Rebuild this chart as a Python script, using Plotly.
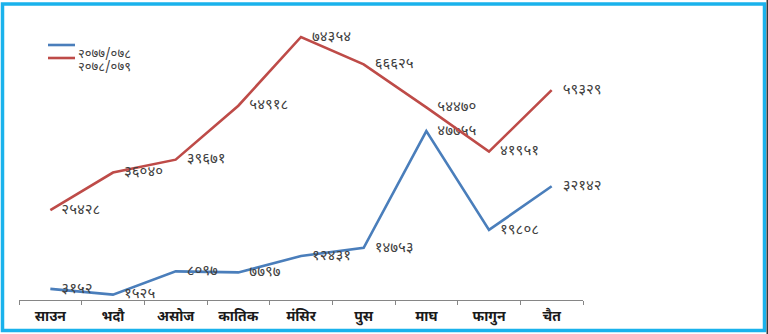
import plotly.graph_objects as go

months = ["साउन", "भदौ", "असोज", "कातिक", "मंसिर", "पुस", "माघ", "फागुन", "चैत"]
series_names = ["२०७७/०७८", "२०७८/०७९"]
values_2077 = [3152, 1525, 8097, 7797, 12431, 14753, 47755, 19808, 32142]
values_2078 = [25428, 36040, 39671, 54918, 74354, 66625, 54470, 41951, 59329]
colors = ["#4a7ebb", "#be4b48"]

DEV = str.maketrans("0123456789", "०१२३४५६७८९")
def dev(n):
    return str(n).translate(DEV)

FONT = "Noto Sans Devanagari, Noto Sans, sans-serif"
W, H = 768, 334
L, R, T, B = 19, 185, 17, 34
pw, ph = W - L - R, H - T - B
def px(x):
    return (x - L) / pw
def py(y):
    return (H - B - y) / ph

fig = go.Figure()
for name, vals, c in zip(series_names, [values_2077, values_2078], colors):
    fig.add_trace(go.Scatter(
        x=months, y=vals, name=name, mode="lines+markers+text",
        line=dict(color=c, width=2.6),
        marker=dict(size=16, opacity=0),
        text=[dev(v) for v in vals], textposition="middle right",
        textfont=dict(size=15, color="#404040", family=FONT),
        cliponaxis=False, showlegend=False,
    ))

shapes = [
    dict(type="rect", xref="paper", yref="paper", x0=px(2.5), x1=px(764.5), y0=py(4), y1=py(330.5),
         line=dict(color="#1ab2ec", width=3.5), layer="below"),
    dict(type="rect", xref="paper", yref="paper", x0=px(766.5), x1=px(768), y0=py(0), y1=py(334),
         line=dict(width=0), fillcolor="#3a3a3a", layer="below"),
]
annotations = []
for i, (name, c) in enumerate(zip(series_names, colors)):
    yy = 45 + 13 * i
    shapes.append(dict(type="line", xref="paper", yref="paper", x0=px(48), x1=px(75),
                       y0=py(yy), y1=py(yy), line=dict(color=c, width=2.6)))
    annotations.append(dict(xref="paper", yref="paper", x=px(77), y=py(yy + 9), text=name,
                            showarrow=False, xanchor="left", yanchor="middle",
                            borderpad=0,
                            font=dict(size=13, color="#404040", family=FONT)))

fig.update_layout(
    width=W, height=H, margin=dict(l=L, r=R, t=T, b=B),
    paper_bgcolor="white", plot_bgcolor="white",
    showlegend=False,
    shapes=shapes, annotations=annotations,
    xaxis=dict(showline=True, linecolor="#868686", linewidth=1, ticks="outside",
               tickson="boundaries", ticklen=4, tickcolor="#868686", showgrid=False,
               ticklabelstandoff=3, automargin=False,
               tickfont=dict(size=14, color="#1a1a1a", family=FONT, weight="bold"),
               range=[-0.5, 8.5], fixedrange=True),
    yaxis=dict(range=[0, 80000], visible=False, showgrid=False, zeroline=False,
               automargin=False),
)

fig.write_html("out.html")
